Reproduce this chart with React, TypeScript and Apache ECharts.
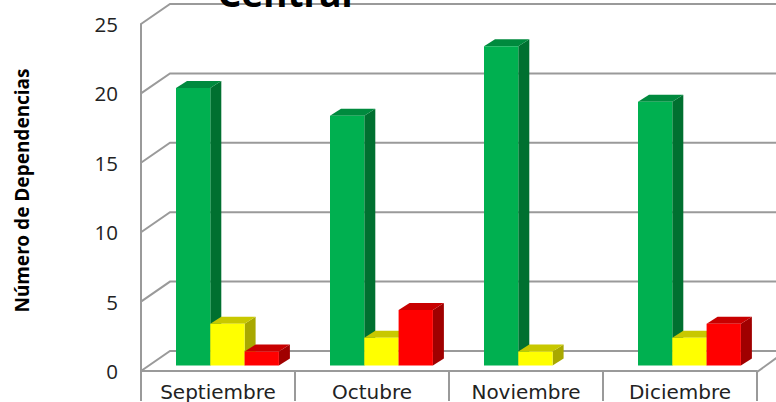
import React, { useEffect, useRef } from "react";
import * as echarts from "echarts";

const months = ["Septiembre", "Octubre", "Noviembre", "Diciembre"];
const greenValues = [20, 18, 23, 19];
const yellowValues = [3, 2, 1, 2];
const redValues = [1, 4, 0, 3];
const yTicks = [0, 5, 10, 15, 20, 25];

const GRID_COLOR = "#9a9a9a";
const BAR_W = 34.3;
const DEPTH_X = 11;
const DEPTH_Y = 7;
const LIFT = 5.5;
const WALL_X = 29;
const WALL_Y = 20;

function barRender(slot: number, front: string, side: string, top: string) {
  return (params: any, api: any) => {
    const value = api.value(1);
    if (!value) return { type: "group", children: [] };
    const p = api.coord([api.value(0), value]);
    const base = api.coord([api.value(0), 0]);
    const x0 = p[0] - 42 + slot * BAR_W;
    const x1 = x0 + BAR_W;
    const yTop = p[1] - LIFT;
    const yBot = base[1] - LIFT;
    return {
      type: "group",
      children: [
        { type: "polygon", shape: { points: [[x1, yTop], [x1 + DEPTH_X, yTop - DEPTH_Y], [x1 + DEPTH_X, yBot - DEPTH_Y], [x1, yBot]] }, style: { fill: side } },
        { type: "polygon", shape: { points: [[x0, yTop], [x0 + DEPTH_X, yTop - DEPTH_Y], [x1 + DEPTH_X, yTop - DEPTH_Y], [x1, yTop]] }, style: { fill: top } },
        { type: "rect", shape: { x: x0, y: yTop, width: BAR_W, height: yBot - yTop }, style: { fill: front } },
      ],
    };
  };
}

function wallRender(params: any, api: any) {
  const left = params.coordSys.x;
  const right = params.coordSys.x + params.coordSys.width;
  const y = api.coord([0, api.value(1)])[1];
  const isFloor = api.value(1) === 0;
  const children: any[] = [
    {
      type: "polyline",
      shape: { points: [[left, y], [left + WALL_X, y - WALL_Y], [right + WALL_X, y - WALL_Y]] },
      style: { stroke: GRID_COLOR, lineWidth: 2, fill: "none" },
    },
  ];
  if (isFloor) {
    children.push({
      type: "line",
      shape: { x1: right, y1: y + 1, x2: right + WALL_X, y2: y - WALL_Y },
      style: { stroke: GRID_COLOR, lineWidth: 2 },
    });
  }
  return { type: "group", children };
}

export default function App() {
  const ref = useRef<HTMLDivElement>(null);
  useEffect(() => {
    const chart = echarts.init(ref.current!, null, { renderer: "svg" });
    chart.setOption({
      animation: false,
      backgroundColor: "#ffffff",
      title: {
        text: "Central",
        left: 280,
        top: -31,
        textAlign: "center",
        textStyle: { fontFamily: "'Noto Sans', sans-serif", fontWeight: "bold", fontSize: 37, color: "#000000" },
      },
      grid: { left: 141, right: 19, top: 24, bottom: 31, containLabel: false },
      xAxis: {
        type: "category",
        data: months,
        boundaryGap: true,
        axisLine: { lineStyle: { color: GRID_COLOR, width: 2 } },
        axisTick: { show: true, length: 30, lineStyle: { color: GRID_COLOR, width: 2 } },
        axisLabel: { fontFamily: "'DejaVu Sans', sans-serif", fontSize: 20, color: "#222222", margin: 11 },
      },
      yAxis: {
        type: "value",
        min: 0,
        max: 25,
        interval: 5,
        name: "Número de Dependencias",
        nameLocation: "middle",
        nameGap: 110,
        nameTextStyle: { fontFamily: "'Noto Sans', sans-serif", fontWeight: "bold", fontSize: 19, color: "#000000", padding: [0, 0, 0, 14] },
        axisLine: { show: true, lineStyle: { color: GRID_COLOR, width: 2 } },
        axisTick: { show: false },
        splitLine: { show: false },
        axisLabel: { fontFamily: "'Open Sans', sans-serif", fontSize: 20.5, color: "#222222", margin: 23 },
      },
      series: [
        { type: "custom", name: "Pared", data: yTicks.map((t) => [0, t]), renderItem: wallRender, silent: true, z: 1 },
        { type: "custom", name: "Verde", data: greenValues.map((v, i) => [i, v]), renderItem: barRender(0, "#00B050", "#007030", "#008A3E"), z: 2 },
        { type: "custom", name: "Amarillo", data: yellowValues.map((v, i) => [i, v]), renderItem: barRender(1, "#FFFF00", "#A8A800", "#C8C800"), z: 3 },
        { type: "custom", name: "Rojo", data: redValues.map((v, i) => [i, v]), renderItem: barRender(2, "#FF0000", "#A00000", "#C80000"), z: 4 },
      ],
    });
    return () => chart.dispose();
  }, []);
  return <div ref={ref} style={{ position: "fixed", left: 0, top: 0, width: 776, height: 402 }} />;
}
